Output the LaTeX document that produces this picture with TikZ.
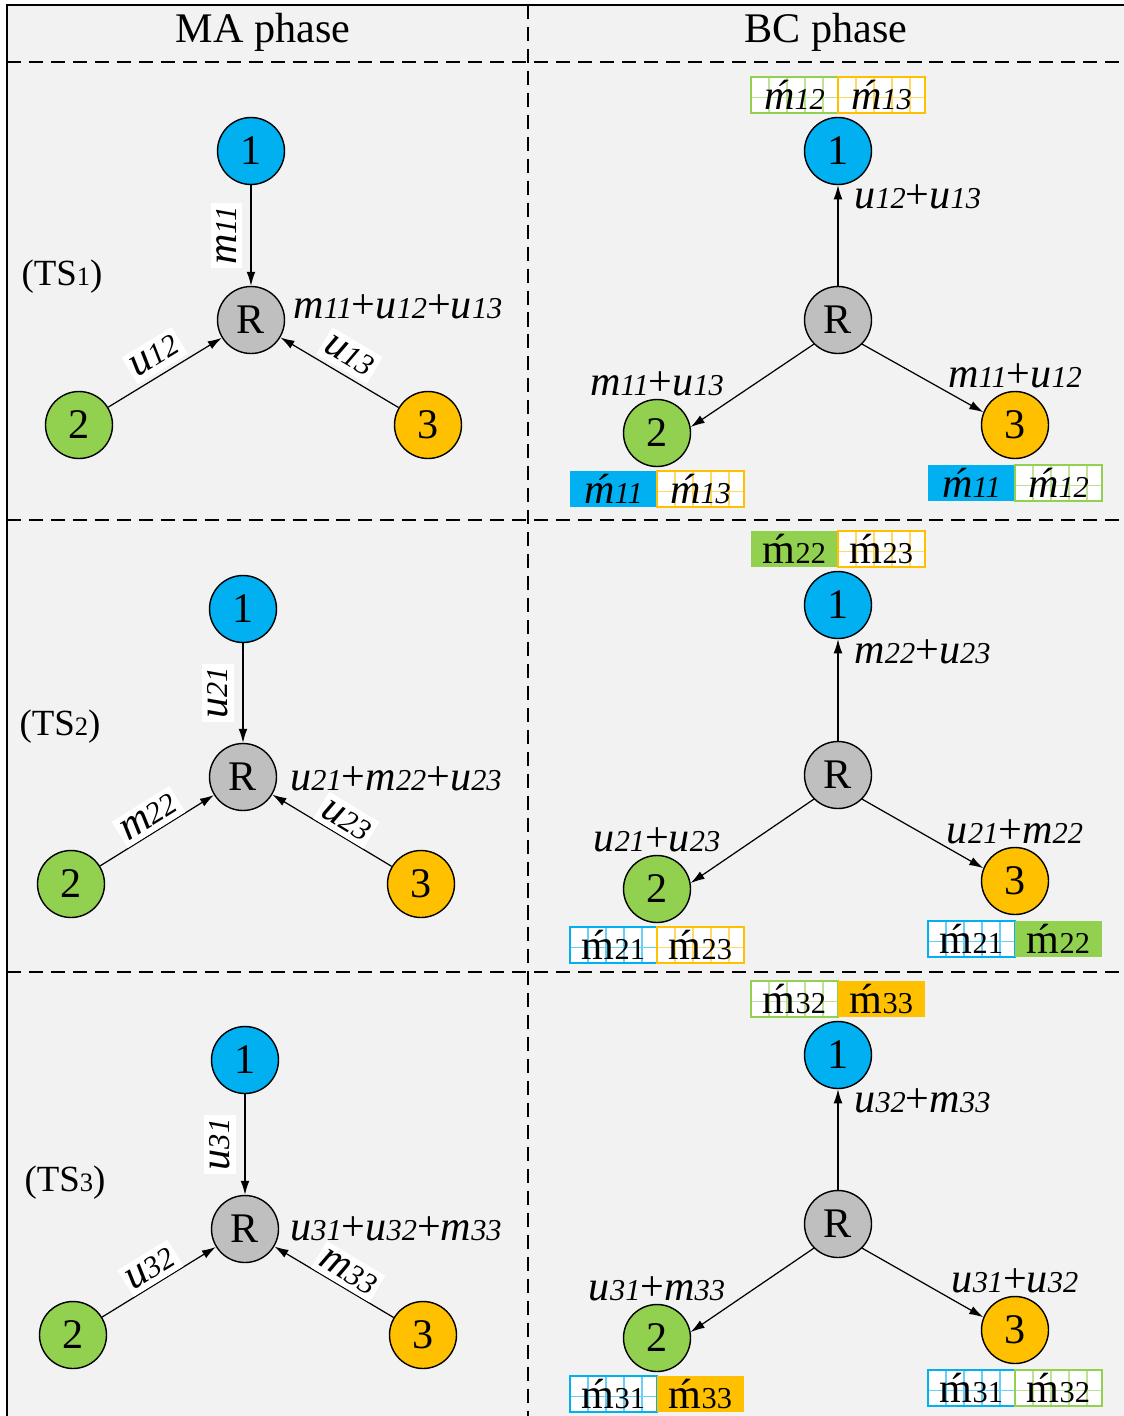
\documentclass[tikz,border=0pt]{standalone}
\usepackage{fontspec}
\setmainfont{Liberation Serif}
\usetikzlibrary{positioning, arrows.meta}

\definecolor{cblue}{HTML}{00B0F0}
\definecolor{cgreen}{HTML}{92D050}
\definecolor{corange}{HTML}{FFC000}
\definecolor{cgray}{HTML}{BFBFBF}
\definecolor{cback}{HTML}{F2F2F2}

\makeatletter
\newcommand\dg[1]{{\fontsize{\fpeval{0.72*\f@size}}{0}\selectfont #1}}
\makeatother
\newcommand\mi[1]{\textit{m\dg{#1}}}
\newcommand\ui[1]{\textit{u\dg{#1}}}
\newcommand\mh[1]{\textit{ḿ\dg{#1}}}
\newcommand\mhu[1]{ḿ\dg{#1}}

\tikzset{
  user/.style={circle, draw, line width=0.8pt, minimum size=1.34cm, inner sep=0pt,
    font=\fontsize{24}{24}\selectfont},
  relay/.style={user, fill=cgray},
  tag/.style={fill=white, inner xsep=2pt, inner ysep=3pt, font=\fontsize{24}{24}\selectfont},
  sum/.style={inner sep=1pt, font=\fontsize{24}{24}\selectfont},
  slot/.style={font=\fontsize{21}{21}\selectfont},
  cell/.style={minimum width=1.74cm, minimum height=0.72cm, inner sep=0pt, outer sep=0pt,
    font=\fontsize{24}{24}\selectfont},
  solidbox/.style={cell, fill=#1},
  gridbox/.style={cell, fill=white, draw=#1, line width=1pt,
    path picture={
      \foreach \gx in {0.36,0.72,1.08,1.44}
        \draw[#1!60, line width=0.8pt] ([xshift=\gx cm]path picture bounding box.north west)
          -- ([xshift=\gx cm]path picture bounding box.south west);
      \draw[#1!60, line width=0.8pt] ([yshift=-0.05cm]path picture bounding box.west)
        -- ([yshift=-0.05cm]path picture bounding box.east);
    }}
}

\begin{document}
\begin{tikzpicture}[x=0.02cm, y=-0.02cm, >={Latex[length=8pt,width=5pt]}, line width=0.7pt]
  \useasboundingbox (0,0) rectangle (1124,1416);
  \fill[cback] (7,5) rectangle (1124,1416);
  \draw[line width=1.1pt] (7,1416) -- (7,5) -- (1124,5);
  \draw[dashed, dash pattern=on 8pt off 4.5pt] (528,5) -- (528,1416);
  \foreach \y in {62,520,972}
    \draw[dashed, dash pattern=on 8pt off 4.5pt] (7,\y) -- (1124,\y);

  \node[sum] (hma) at (263,32) {MA phase};
  \node[sum] (hbc) at (826,32) {BC phase};

  % first time slot
  \node[user, fill=cblue] (a1) at (251,151) {1};
  \node[relay] (aR) at (251,320) {R};
  \node[user, fill=cgreen] (a2) at (79,425) {2};
  \node[user, fill=corange] (a3) at (428,425) {3};
  \draw[<-] (aR) -- node[tag, sloped, above=5pt] {\mi{11}} (a1);
  \draw[->] (a2) -- node[tag, sloped, above=2pt] {\ui{12}} (aR);
  \draw[->] (a3) -- node[tag, sloped, above=2pt] {\ui{13}} (aR);
  \node[sum, anchor=west] (aS) at (291,307) {\mi{11}+\ui{12}+\ui{13}};
  \node[slot] (ts1) at (62,277) {(TS\dg{1})};

  \node[user, fill=cblue] (b1) at (838,151) {1};
  \node[relay] (bR) at (838,320) {R};
  \node[user, fill=cgreen] (b2) at (657,433) {2};
  \node[user, fill=corange] (b3) at (1015,425) {3};
  \draw[->] (bR) -- node[sum, pos=0.88, right=8pt] {\ui{12}+\ui{13}} (b1);
  \draw[->] (bR.225) -- (b2.10);
  \draw[->] (bR.-45) -- (b3.158);
  \node[sum, above=0pt of b2] (bS2) {\mi{11}+\ui{13}};
  \node[sum, above=0pt of b3] (bS3) {\mi{11}+\ui{12}};
  \node[gridbox=cgreen, above left=0.08cm and 0cm of b1.north] (b1x) {\mh{12}};
  \node[gridbox=corange, right=0pt of b1x] (b1y) {\mh{13}};
  \node[solidbox=cblue, below left=0.08cm and 0cm of b2.south] (b2x) {\mh{11}};
  \node[gridbox=corange, right=0pt of b2x] (b2y) {\mh{13}};
  \node[solidbox=cblue, below left=0.12cm and 0cm of b3.south] (b3x) {\mh{11}};
  \node[gridbox=cgreen, right=0pt of b3x] (b3y) {\mh{12}};

  % second time slot
  \node[user, fill=cblue] (c1) at (243,609) {1};
  \node[relay] (cR) at (243,777) {R};
  \node[user, fill=cgreen] (c2) at (71,884) {2};
  \node[user, fill=corange] (c3) at (421,884) {3};
  \draw[<-] (cR) -- node[tag, sloped, above=5pt] {\ui{21}} (c1);
  \draw[->] (c2) -- node[tag, sloped, above=0pt] {\mi{22}} (cR);
  \draw[->] (c3) -- node[tag, sloped, above=0pt, pos=0.45] {\ui{23}} (cR);
  \node[sum, anchor=west] (cS) at (288,779) {\ui{21}+\mi{22}+\ui{23}};
  \node[slot] (ts2) at (60,727) {(TS\dg{2})};

  \node[user, fill=cblue] (d1) at (838,605) {1};
  \node[relay] (dR) at (838,775) {R};
  \node[user, fill=cgreen] (d2) at (657,889) {2};
  \node[user, fill=corange] (d3) at (1015,881) {3};
  \draw[->] (dR) -- node[sum, pos=0.88, right=8pt] {\mi{22}+\ui{23}} (d1);
  \draw[->] (dR.225) -- (d2.10);
  \draw[->] (dR.-45) -- (d3.158);
  \node[sum, above=0pt of d2] (dS2) {\ui{21}+\ui{23}};
  \node[sum, above=0pt of d3] (dS3) {\ui{21}+\mi{22}};
  \node[solidbox=cgreen, above left=0.08cm and 0cm of d1.north] (d1x) {\mhu{22}};
  \node[gridbox=corange, right=0pt of d1x] (d1y) {\mhu{23}};
  \node[gridbox=cblue, below left=0.08cm and 0cm of d2.south] (d2x) {\mhu{21}};
  \node[gridbox=corange, right=0pt of d2x] (d2y) {\mhu{23}};
  \node[gridbox=cblue, below left=0.12cm and 0cm of d3.south] (d3x) {\mhu{21}};
  \node[solidbox=cgreen, right=0pt of d3x] (d3y) {\mhu{22}};

  % third time slot
  \node[user, fill=cblue] (e1) at (245,1060) {1};
  \node[relay] (eR) at (245,1229) {R};
  \node[user, fill=cgreen] (e2) at (73,1335) {2};
  \node[user, fill=corange] (e3) at (423,1335) {3};
  \draw[<-] (eR) -- node[tag, sloped, above=5pt] {\ui{31}} (e1);
  \draw[->] (e2) -- node[tag, sloped, above=0pt] {\ui{32}} (eR);
  \draw[->] (e3) -- node[tag, sloped, above=0pt, pos=0.45] {\mi{33}} (eR);
  \node[sum, anchor=west] (eS) at (288,1229) {\ui{31}+\ui{32}+\mi{33}};
  \node[slot] (ts3) at (65,1183) {(TS\dg{3})};

  \node[user, fill=cblue] (f1) at (838,1055) {1};
  \node[relay] (fR) at (838,1224) {R};
  \node[user, fill=cgreen] (f2) at (657,1338) {2};
  \node[user, fill=corange] (f3) at (1015,1330) {3};
  \draw[->] (fR) -- node[sum, pos=0.88, right=8pt] {\ui{32}+\mi{33}} (f1);
  \draw[->] (fR.225) -- (f2.10);
  \draw[->] (fR.-45) -- (f3.158);
  \node[sum, above=0pt of f2] (fS2) {\ui{31}+\mi{33}};
  \node[sum, above=0pt of f3] (fS3) {\ui{31}+\ui{32}};
  \node[gridbox=cgreen, above left=0.08cm and 0cm of f1.north] (f1x) {\mhu{32}};
  \node[solidbox=corange, right=0pt of f1x] (f1y) {\mhu{33}};
  \node[gridbox=cblue, below left=0.08cm and 0cm of f2.south] (f2x) {\mhu{31}};
  \node[solidbox=corange, right=0pt of f2x] (f2y) {\mhu{33}};
  \node[gridbox=cblue, below left=0.12cm and 0cm of f3.south] (f3x) {\mhu{31}};
  \node[gridbox=cgreen, right=0pt of f3x] (f3y) {\mhu{32}};
\end{tikzpicture}
\end{document}
